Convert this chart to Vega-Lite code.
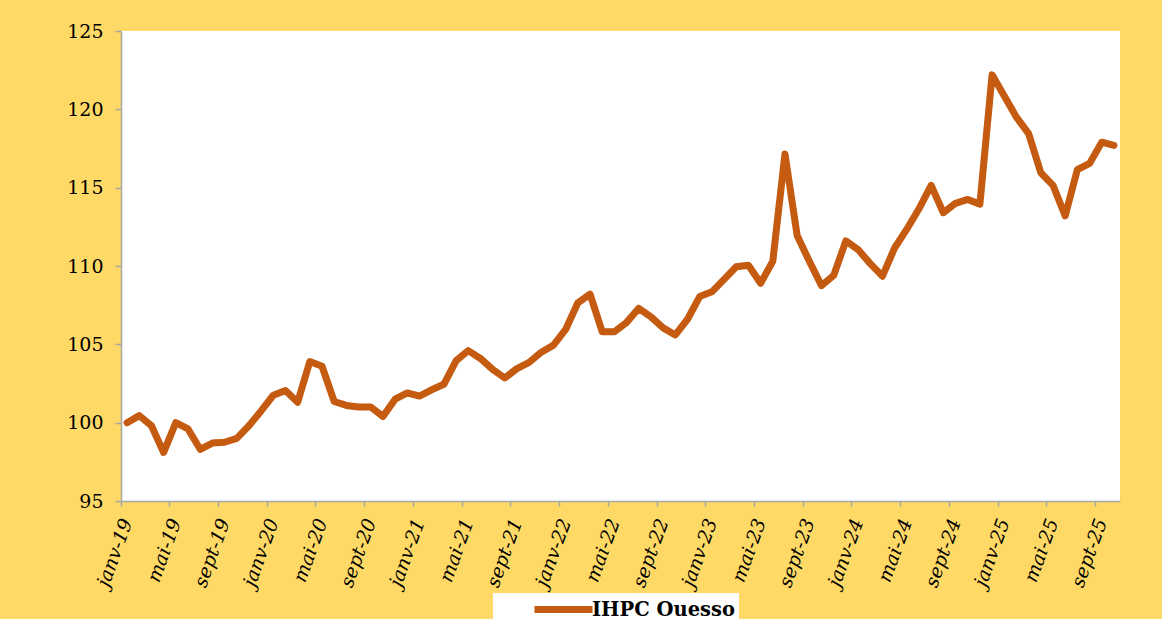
{
  "$schema": "https://vega.github.io/schema/vega-lite/v6.json",
  "autosize": "none",
  "width": 999,
  "height": 470,
  "padding": {"left": 121, "top": 31, "right": 42, "bottom": 118},
  "background": "#FFD966",
  "config": {
    "view": {"fill": "#FFFFFF", "stroke": null},
    "font": "DejaVu Serif"
  },
  "data": {
    "values": [
      {"mois": "janv-19", "valeur": 100.0, "serie": "IHPC Ouesso"},
      {"mois": "févr-19", "valeur": 100.45, "serie": "IHPC Ouesso"},
      {"mois": "mars-19", "valeur": 99.8, "serie": "IHPC Ouesso"},
      {"mois": "avr-19", "valeur": 98.1, "serie": "IHPC Ouesso"},
      {"mois": "mai-19", "valeur": 100.0, "serie": "IHPC Ouesso"},
      {"mois": "juin-19", "valeur": 99.6, "serie": "IHPC Ouesso"},
      {"mois": "juil-19", "valeur": 98.3, "serie": "IHPC Ouesso"},
      {"mois": "août-19", "valeur": 98.7, "serie": "IHPC Ouesso"},
      {"mois": "sept-19", "valeur": 98.75, "serie": "IHPC Ouesso"},
      {"mois": "oct-19", "valeur": 99.0, "serie": "IHPC Ouesso"},
      {"mois": "nov-19", "valeur": 99.8, "serie": "IHPC Ouesso"},
      {"mois": "déc-19", "valeur": 100.75, "serie": "IHPC Ouesso"},
      {"mois": "janv-20", "valeur": 101.75, "serie": "IHPC Ouesso"},
      {"mois": "févr-20", "valeur": 102.05, "serie": "IHPC Ouesso"},
      {"mois": "mars-20", "valeur": 101.3, "serie": "IHPC Ouesso"},
      {"mois": "avr-20", "valeur": 103.9, "serie": "IHPC Ouesso"},
      {"mois": "mai-20", "valeur": 103.6, "serie": "IHPC Ouesso"},
      {"mois": "juin-20", "valeur": 101.35, "serie": "IHPC Ouesso"},
      {"mois": "juil-20", "valeur": 101.1, "serie": "IHPC Ouesso"},
      {"mois": "août-20", "valeur": 101.0, "serie": "IHPC Ouesso"},
      {"mois": "sept-20", "valeur": 101.0, "serie": "IHPC Ouesso"},
      {"mois": "oct-20", "valeur": 100.4, "serie": "IHPC Ouesso"},
      {"mois": "nov-20", "valeur": 101.5, "serie": "IHPC Ouesso"},
      {"mois": "déc-20", "valeur": 101.9, "serie": "IHPC Ouesso"},
      {"mois": "janv-21", "valeur": 101.7, "serie": "IHPC Ouesso"},
      {"mois": "févr-21", "valeur": 102.1, "serie": "IHPC Ouesso"},
      {"mois": "mars-21", "valeur": 102.45, "serie": "IHPC Ouesso"},
      {"mois": "avr-21", "valeur": 103.95, "serie": "IHPC Ouesso"},
      {"mois": "mai-21", "valeur": 104.6, "serie": "IHPC Ouesso"},
      {"mois": "juin-21", "valeur": 104.1, "serie": "IHPC Ouesso"},
      {"mois": "juil-21", "valeur": 103.4, "serie": "IHPC Ouesso"},
      {"mois": "août-21", "valeur": 102.85, "serie": "IHPC Ouesso"},
      {"mois": "sept-21", "valeur": 103.45, "serie": "IHPC Ouesso"},
      {"mois": "oct-21", "valeur": 103.85, "serie": "IHPC Ouesso"},
      {"mois": "nov-21", "valeur": 104.5, "serie": "IHPC Ouesso"},
      {"mois": "déc-21", "valeur": 104.95, "serie": "IHPC Ouesso"},
      {"mois": "janv-22", "valeur": 105.95, "serie": "IHPC Ouesso"},
      {"mois": "févr-22", "valeur": 107.65, "serie": "IHPC Ouesso"},
      {"mois": "mars-22", "valeur": 108.2, "serie": "IHPC Ouesso"},
      {"mois": "avr-22", "valeur": 105.8, "serie": "IHPC Ouesso"},
      {"mois": "mai-22", "valeur": 105.8, "serie": "IHPC Ouesso"},
      {"mois": "juin-22", "valeur": 106.4, "serie": "IHPC Ouesso"},
      {"mois": "juil-22", "valeur": 107.3, "serie": "IHPC Ouesso"},
      {"mois": "août-22", "valeur": 106.75, "serie": "IHPC Ouesso"},
      {"mois": "sept-22", "valeur": 106.05, "serie": "IHPC Ouesso"},
      {"mois": "oct-22", "valeur": 105.6, "serie": "IHPC Ouesso"},
      {"mois": "nov-22", "valeur": 106.6, "serie": "IHPC Ouesso"},
      {"mois": "déc-22", "valeur": 108.05, "serie": "IHPC Ouesso"},
      {"mois": "janv-23", "valeur": 108.35, "serie": "IHPC Ouesso"},
      {"mois": "févr-23", "valeur": 109.15, "serie": "IHPC Ouesso"},
      {"mois": "mars-23", "valeur": 109.95, "serie": "IHPC Ouesso"},
      {"mois": "avr-23", "valeur": 110.05, "serie": "IHPC Ouesso"},
      {"mois": "mai-23", "valeur": 108.9, "serie": "IHPC Ouesso"},
      {"mois": "juin-23", "valeur": 110.3, "serie": "IHPC Ouesso"},
      {"mois": "juil-23", "valeur": 117.15, "serie": "IHPC Ouesso"},
      {"mois": "août-23", "valeur": 111.95, "serie": "IHPC Ouesso"},
      {"mois": "sept-23", "valeur": 110.3, "serie": "IHPC Ouesso"},
      {"mois": "oct-23", "valeur": 108.75, "serie": "IHPC Ouesso"},
      {"mois": "nov-23", "valeur": 109.4, "serie": "IHPC Ouesso"},
      {"mois": "déc-23", "valeur": 111.6, "serie": "IHPC Ouesso"},
      {"mois": "janv-24", "valeur": 111.05, "serie": "IHPC Ouesso"},
      {"mois": "févr-24", "valeur": 110.15, "serie": "IHPC Ouesso"},
      {"mois": "mars-24", "valeur": 109.35, "serie": "IHPC Ouesso"},
      {"mois": "avr-24", "valeur": 111.15, "serie": "IHPC Ouesso"},
      {"mois": "mai-24", "valeur": 112.35, "serie": "IHPC Ouesso"},
      {"mois": "juin-24", "valeur": 113.65, "serie": "IHPC Ouesso"},
      {"mois": "juil-24", "valeur": 115.15, "serie": "IHPC Ouesso"},
      {"mois": "août-24", "valeur": 113.4, "serie": "IHPC Ouesso"},
      {"mois": "sept-24", "valeur": 114.0, "serie": "IHPC Ouesso"},
      {"mois": "oct-24", "valeur": 114.25, "serie": "IHPC Ouesso"},
      {"mois": "nov-24", "valeur": 113.95, "serie": "IHPC Ouesso"},
      {"mois": "déc-24", "valeur": 122.2, "serie": "IHPC Ouesso"},
      {"mois": "janv-25", "valeur": 120.85, "serie": "IHPC Ouesso"},
      {"mois": "févr-25", "valeur": 119.5, "serie": "IHPC Ouesso"},
      {"mois": "mars-25", "valeur": 118.45, "serie": "IHPC Ouesso"},
      {"mois": "avr-25", "valeur": 115.95, "serie": "IHPC Ouesso"},
      {"mois": "mai-25", "valeur": 115.15, "serie": "IHPC Ouesso"},
      {"mois": "juin-25", "valeur": 113.2, "serie": "IHPC Ouesso"},
      {"mois": "juil-25", "valeur": 116.15, "serie": "IHPC Ouesso"},
      {"mois": "août-25", "valeur": 116.55, "serie": "IHPC Ouesso"},
      {"mois": "sept-25", "valeur": 117.9, "serie": "IHPC Ouesso"},
      {"mois": "oct-25", "valeur": 117.7, "serie": "IHPC Ouesso"}
    ]
  },
  "mark": {"type": "line", "strokeWidth": 7, "strokeCap": "round", "strokeJoin": "round"},
  "encoding": {
    "x": {
      "field": "mois",
      "type": "ordinal",
      "sort": null,
      "bandPosition": 0.5,
      "scale": {"type": "band", "paddingInner": 0, "paddingOuter": 0},
      "axis": {
        "title": null,
        "values": ["janv-19", "mai-19", "sept-19", "janv-20", "mai-20", "sept-20", "janv-21", "mai-21", "sept-21", "janv-22", "mai-22", "sept-22", "janv-23", "mai-23", "sept-23", "janv-24", "mai-24", "sept-24", "janv-25", "mai-25", "sept-25"],
        "bandPosition": 0,
        "labelAngle": -70,
        "labelFont": "DejaVu Serif",
        "labelFontStyle": "italic",
        "labelFontSize": 19,
        "labelColor": "#000000",
        "labelPadding": 13,
        "domainColor": "#A6A6A6",
        "domainWidth": 1.5,
        "tickColor": "#A6A6A6",
        "tickWidth": 1.5,
        "tickSize": 5,
        "grid": false
      }
    },
    "y": {
      "field": "valeur",
      "type": "quantitative",
      "scale": {"domain": [95, 125], "zero": false, "nice": false},
      "axis": {
        "title": null,
        "values": [95, 100, 105, 110, 115, 120, 125],
        "labelFont": "DejaVu Serif",
        "labelFontSize": 19,
        "labelColor": "#000000",
        "labelPadding": 12,
        "domainColor": "#A6A6A6",
        "domainWidth": 1.5,
        "tickColor": "#A6A6A6",
        "tickWidth": 1.5,
        "tickSize": 6,
        "grid": false
      }
    },
    "color": {
      "field": "serie",
      "type": "nominal",
      "scale": {"range": ["#C55A11"]},
      "legend": {
        "title": null,
        "orient": "none",
        "legendX": 372,
        "legendY": 562,
        "fillColor": "#FFFFFF",
        "padding": 3,
        "symbolType": "M-1,0H4.8",
        "symbolSize": 400,
        "symbolStrokeWidth": 7,
        "symbolOffset": 35,
        "labelFont": "DejaVu Serif",
        "labelFontWeight": "bold",
        "labelFontSize": 19.5,
        "labelColor": "#000000",
        "labelOffset": 34,
        "labelLimit": 400
      }
    }
  }
}
